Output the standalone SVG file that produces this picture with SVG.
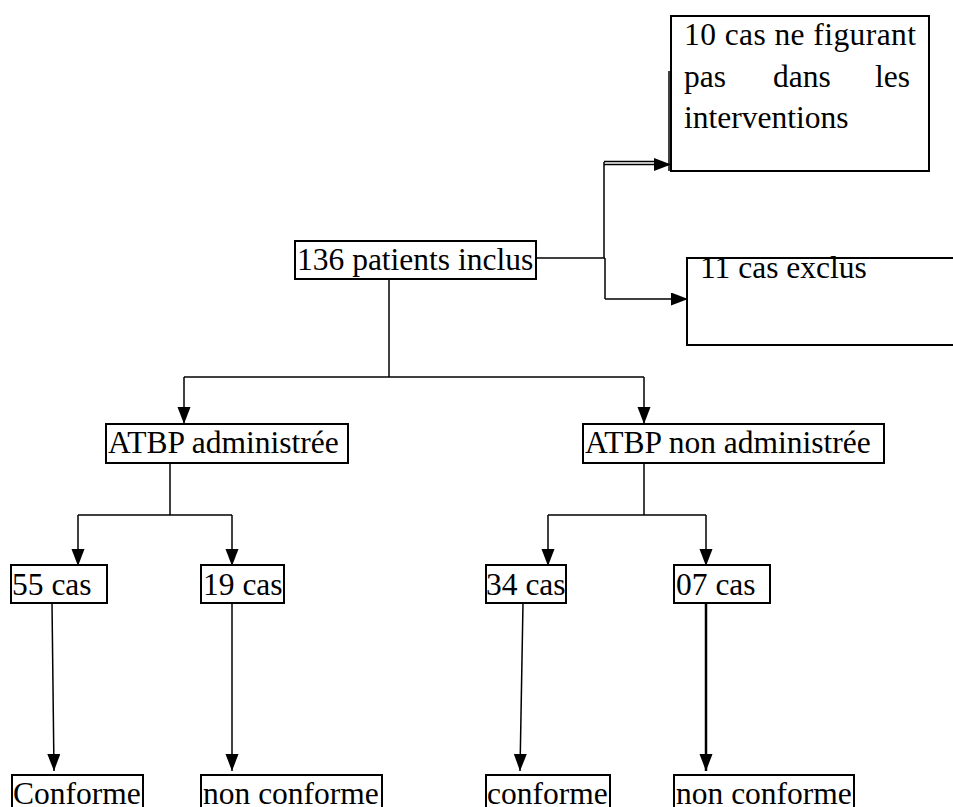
<svg xmlns="http://www.w3.org/2000/svg" width="953" height="807" viewBox="0 0 953 807">
<style>
.box{fill:#fff;stroke:#000;stroke-width:2}
.t{font-family:"Liberation Serif","Times New Roman",serif;font-size:31.5px;fill:#000}
.ln{fill:none;stroke:#000;stroke-width:1.5}
.ar{fill:none;stroke:#000;stroke-width:1.5;marker-end:url(#ah)}
</style>
<defs>
<marker id="ah" markerUnits="userSpaceOnUse" markerWidth="18" markerHeight="14" refX="17" refY="6.5" orient="auto">
<path d="M0,0 L17,6.5 L0,13 Z" fill="#000"/>
</marker>
</defs>
<rect width="953" height="807" fill="#fff"/>
<g id="connectors">
<line class="ln" x1="389" y1="279" x2="389" y2="377"/>
<line class="ln" x1="184" y1="377" x2="644" y2="377"/>
<line class="ar" x1="184" y1="377" x2="184" y2="424"/>
<line class="ar" x1="644" y1="377" x2="644" y2="424"/>
<line class="ln" x1="536" y1="258" x2="605" y2="258"/>
<line class="ln" x1="604" y1="162" x2="604" y2="258"/>
<line class="ln" x1="605" y1="258" x2="605" y2="299"/>
<line class="ln" x1="604" y1="161.5" x2="656" y2="161.5"/>
<line class="ar" x1="604" y1="164.5" x2="671" y2="164.5"/>
<line class="ar" x1="605" y1="299" x2="688" y2="299"/>
<line class="ln" x1="170" y1="463" x2="170" y2="515"/>
<line class="ln" x1="78" y1="515" x2="232" y2="515"/>
<line class="ar" x1="78" y1="515" x2="78" y2="566"/>
<line class="ar" x1="232" y1="515" x2="232" y2="566"/>
<line class="ln" x1="644" y1="463" x2="644" y2="515"/>
<line class="ln" x1="548" y1="515" x2="706" y2="515"/>
<line class="ar" x1="548" y1="515" x2="548" y2="566"/>
<line class="ar" x1="706" y1="515" x2="706" y2="566"/>
<line class="ar" x1="52" y1="603" x2="54" y2="771"/>
<line class="ar" x1="232" y1="603" x2="232" y2="771"/>
<line class="ar" x1="523" y1="603" x2="520" y2="771"/>
<line class="ar" x1="706" y1="603" x2="706" y2="771" style="stroke-width:2.5"/>
</g>
<g id="n-top">
<rect class="box" x="671" y="16" width="258" height="155"/>
<line class="ln" x1="669" y1="71" x2="669" y2="171"/>
<text class="t" x="684" y="45" textLength="232" lengthAdjust="spacing">10 cas ne figurant</text>
<text class="t" x="684" y="87">pas</text>
<text class="t" x="773" y="87">dans</text>
<text class="t" x="875" y="87">les</text>
<text class="t" x="684" y="128">interventions</text>
</g>
<g id="n-exclus">
<rect class="box" x="687" y="258" width="280" height="87"/>
<text class="t" x="700" y="278">11 cas exclus</text>
</g>
<g id="n-136">
<rect class="box" x="295" y="241" width="241" height="38"/>
<text class="t" x="297" y="270">136 patients inclus</text>
</g>
<g id="n-atbp-a">
<rect class="box" x="106" y="424" width="242" height="39"/>
<text class="t" x="108" y="453">ATBP administrée</text>
</g>
<g id="n-atbp-na">
<rect class="box" x="583" y="424" width="301" height="39"/>
<text class="t" x="585" y="453">ATBP non administrée</text>
</g>
<g id="n-55">
<rect class="box" x="11" y="565" width="96" height="38"/>
<text class="t" x="12" y="595">55 cas</text>
</g>
<g id="n-19">
<rect class="box" x="201" y="565" width="83" height="38"/>
<text class="t" x="203" y="595">19 cas</text>
</g>
<g id="n-34">
<rect class="box" x="486" y="565" width="80" height="38"/>
<text class="t" x="486" y="595">34 cas</text>
</g>
<g id="n-07">
<rect class="box" x="674" y="565" width="96" height="38"/>
<text class="t" x="676" y="595">07 cas</text>
</g>
<g id="n-conf1">
<rect class="box" x="12" y="775" width="131" height="45"/>
<text class="t" x="13" y="804">Conforme</text>
</g>
<g id="n-nonconf1">
<rect class="box" x="201" y="775" width="181" height="45"/>
<text class="t" x="203" y="804">non conforme</text>
</g>
<g id="n-conf2">
<rect class="box" x="486" y="775" width="124" height="45"/>
<text class="t" x="487" y="804">conforme</text>
</g>
<g id="n-nonconf2">
<rect class="box" x="674" y="775" width="180" height="45"/>
<text class="t" x="676" y="804">non conforme</text>
</g>
</svg>
